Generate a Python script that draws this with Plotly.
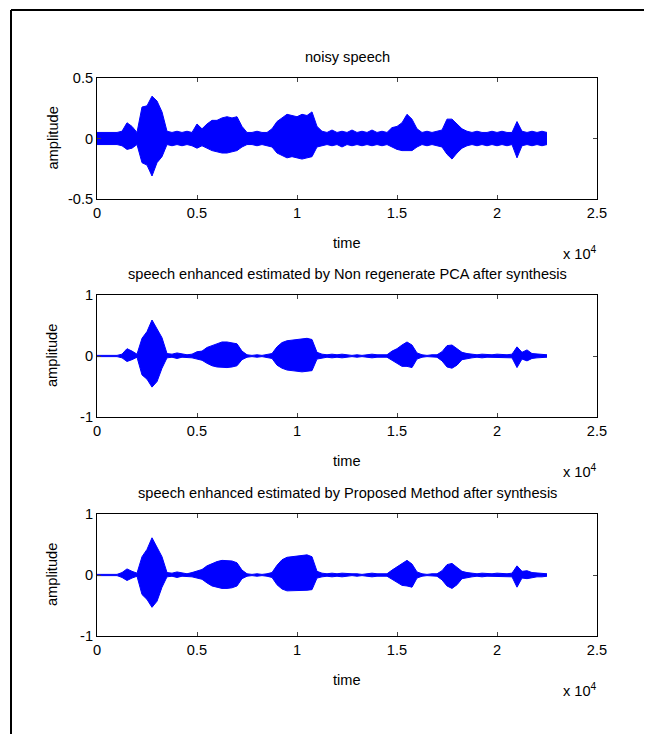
import plotly.graph_objects as go

W, H = 649, 734

# sample index (time) at which envelope values were read
time_samples = [
    0, 250, 500, 750, 1000, 1250, 1500, 1750, 2000, 2250,
    2500, 2750, 3000, 3250, 3500, 3750, 4000, 4250, 4500, 4750,
    5000, 5250, 5500, 5750, 6000, 6250, 6500, 6750, 7000, 7250,
    7500, 7750, 8000, 8250, 8500, 8750, 9000, 9250, 9500, 9750,
    10000, 10250, 10500, 10750, 11000, 11250, 11500, 11750, 12000, 12250,
    12500, 12750, 13000, 13250, 13500, 13750, 14000, 14250, 14500, 14750,
    15000, 15250, 15500, 15750, 16000, 16250, 16500, 16750, 17000, 17250,
    17500, 17750, 18000, 18250, 18500, 18750, 19000, 19250, 19500, 19750,
    20000, 20250, 20500, 20750, 21000, 21250, 21500, 21750, 22000, 22250,
    22500,
]

noisy_upper = [
    0.05, 0.05, 0.05, 0.05, 0.05, 0.06, 0.13, 0.10, 0.05, 0.26,
    0.27, 0.35, 0.31, 0.22, 0.06, 0.05, 0.06, 0.05, 0.06, 0.05,
    0.12, 0.08, 0.12, 0.15, 0.15, 0.17, 0.18, 0.17, 0.18, 0.10,
    0.05, 0.05, 0.06, 0.05, 0.05, 0.08, 0.14, 0.17, 0.20, 0.19,
    0.18, 0.20, 0.19, 0.22, 0.10, 0.06, 0.05, 0.07, 0.05, 0.06,
    0.05, 0.07, 0.05, 0.06, 0.05, 0.07, 0.05, 0.06, 0.05, 0.09,
    0.10, 0.13, 0.20, 0.16, 0.08, 0.05, 0.06, 0.05, 0.06, 0.07,
    0.16, 0.16, 0.12, 0.08, 0.06, 0.05, 0.06, 0.05, 0.05, 0.06,
    0.05, 0.06, 0.05, 0.05, 0.14, 0.06, 0.05, 0.06, 0.05, 0.06,
    0.05,
]
noisy_lower = [
    -0.05, -0.05, -0.05, -0.05, -0.05, -0.06, -0.09, -0.08, -0.05, -0.20,
    -0.22, -0.31, -0.20, -0.15, -0.05, -0.06, -0.05, -0.06, -0.05, -0.06,
    -0.08, -0.06, -0.08, -0.10, -0.11, -0.12, -0.12, -0.11, -0.10, -0.07,
    -0.05, -0.05, -0.06, -0.05, -0.06, -0.07, -0.12, -0.14, -0.16, -0.15,
    -0.16, -0.17, -0.16, -0.15, -0.07, -0.06, -0.05, -0.06, -0.05, -0.07,
    -0.05, -0.06, -0.05, -0.06, -0.05, -0.06, -0.05, -0.06, -0.05, -0.07,
    -0.09, -0.10, -0.10, -0.10, -0.07, -0.05, -0.06, -0.05, -0.06, -0.07,
    -0.13, -0.17, -0.12, -0.08, -0.06, -0.05, -0.06, -0.05, -0.06, -0.05,
    -0.06, -0.05, -0.06, -0.05, -0.16, -0.06, -0.05, -0.06, -0.05, -0.06,
    -0.05,
]

pca_upper = [
    0.01, 0.01, 0.01, 0.01, 0.01, 0.03, 0.12, 0.08, 0.03, 0.29,
    0.40, 0.59, 0.45, 0.30, 0.04, 0.03, 0.05, 0.03, 0.02, 0.03,
    0.07, 0.08, 0.14, 0.17, 0.20, 0.23, 0.23, 0.22, 0.20, 0.08,
    0.02, 0.01, 0.02, 0.01, 0.02, 0.04, 0.15, 0.22, 0.25, 0.26,
    0.27, 0.28, 0.29, 0.27, 0.06, 0.03, 0.02, 0.03, 0.02, 0.03,
    0.02, 0.01, 0.02, 0.01, 0.02, 0.03, 0.02, 0.02, 0.02, 0.08,
    0.12, 0.18, 0.23, 0.18, 0.05, 0.02, 0.01, 0.02, 0.02, 0.07,
    0.17, 0.18, 0.12, 0.06, 0.04, 0.03, 0.02, 0.03, 0.02, 0.02,
    0.03, 0.02, 0.02, 0.03, 0.15, 0.06, 0.10, 0.04, 0.03, 0.03,
    0.02,
]
pca_lower = [
    -0.01, -0.01, -0.01, -0.01, -0.01, -0.03, -0.09, -0.06, -0.02, -0.31,
    -0.38, -0.51, -0.42, -0.20, -0.03, -0.02, -0.04, -0.02, -0.02, -0.03,
    -0.05, -0.07, -0.12, -0.16, -0.18, -0.19, -0.19, -0.18, -0.16, -0.06,
    -0.02, -0.01, -0.02, -0.01, -0.02, -0.04, -0.15, -0.20, -0.23, -0.24,
    -0.25, -0.26, -0.25, -0.24, -0.05, -0.03, -0.02, -0.03, -0.02, -0.03,
    -0.02, -0.01, -0.02, -0.01, -0.02, -0.03, -0.02, -0.02, -0.02, -0.07,
    -0.12, -0.17, -0.17, -0.19, -0.05, -0.02, -0.01, -0.02, -0.02, -0.08,
    -0.18, -0.20, -0.15, -0.06, -0.04, -0.03, -0.02, -0.03, -0.02, -0.02,
    -0.03, -0.02, -0.02, -0.03, -0.19, -0.05, -0.08, -0.04, -0.03, -0.03,
    -0.02,
]

prop_upper = [
    0.01, 0.01, 0.01, 0.01, 0.01, 0.04, 0.10, 0.06, 0.03, 0.30,
    0.42, 0.61, 0.46, 0.30, 0.04, 0.03, 0.05, 0.03, 0.02, 0.04,
    0.07, 0.09, 0.15, 0.19, 0.22, 0.24, 0.24, 0.23, 0.20, 0.08,
    0.02, 0.01, 0.02, 0.01, 0.02, 0.04, 0.16, 0.25, 0.29, 0.30,
    0.31, 0.32, 0.33, 0.30, 0.06, 0.03, 0.02, 0.03, 0.02, 0.03,
    0.02, 0.02, 0.02, 0.01, 0.02, 0.03, 0.02, 0.02, 0.02, 0.08,
    0.13, 0.19, 0.24, 0.18, 0.05, 0.02, 0.01, 0.02, 0.02, 0.07,
    0.17, 0.19, 0.12, 0.06, 0.04, 0.03, 0.02, 0.03, 0.02, 0.02,
    0.03, 0.02, 0.02, 0.03, 0.15, 0.06, 0.07, 0.04, 0.03, 0.03,
    0.02,
]
prop_lower = [
    -0.01, -0.01, -0.01, -0.01, -0.01, -0.04, -0.09, -0.05, -0.02, -0.32,
    -0.40, -0.53, -0.43, -0.20, -0.03, -0.02, -0.04, -0.02, -0.02, -0.03,
    -0.05, -0.07, -0.13, -0.18, -0.20, -0.22, -0.22, -0.21, -0.18, -0.06,
    -0.02, -0.01, -0.02, -0.01, -0.02, -0.04, -0.16, -0.23, -0.26, -0.26,
    -0.26, -0.26, -0.25, -0.24, -0.05, -0.03, -0.02, -0.03, -0.02, -0.03,
    -0.02, -0.01, -0.02, -0.01, -0.02, -0.03, -0.02, -0.02, -0.02, -0.07,
    -0.12, -0.17, -0.18, -0.20, -0.05, -0.02, -0.01, -0.02, -0.02, -0.08,
    -0.18, -0.22, -0.16, -0.06, -0.04, -0.03, -0.02, -0.03, -0.02, -0.02,
    -0.03, -0.02, -0.02, -0.03, -0.20, -0.05, -0.06, -0.04, -0.03, -0.03,
    -0.02,
]

titles = [
    "noisy speech",
    "speech enhanced estimated by Non regenerate PCA after synthesis",
    "speech enhanced estimated by Proposed Method after synthesis",
]
x_tickvals = [0, 5000, 10000, 15000, 20000, 25000]
x_ticktext = ["0", "0.5", "1", "1.5", "2", "2.5"]
y_ranges = [[-0.5, 0.5], [-1, 1], [-1, 1]]
y_tickvals = [[-0.5, 0, 0.5], [-1, 0, 1], [-1, 0, 1]]
y_ticktext = [["-0.5", "0", "0.5"], ["-1", "0", "1"], ["-1", "0", "1"]]

series = [(noisy_upper, noisy_lower), (pca_upper, pca_lower), (prop_upper, prop_lower)]

# pixel layout of axes (top, bottom) in the 649x734 picture
ax_left, ax_right = 97, 597
ax_rows = [(78, 199), (295, 417), (514, 636)]

FONT = "Liberation Sans, Arial, sans-serif"
FS = 14.6
BLUE = "#0000FF"

fig = go.Figure()
layout = dict(
    width=W, height=H,
    margin=dict(l=0, r=0, t=0, b=0, autoexpand=False),
    paper_bgcolor="white", plot_bgcolor="white",
    showlegend=False,
    font=dict(family=FONT, size=FS, color="black"),
)
annotations = []
for i, ((up, lo), (top, bot)) in enumerate(zip(series, ax_rows)):
    n = "" if i == 0 else str(i + 1)
    xa, ya = "x" + n, "y" + n
    fig.add_trace(go.Scatter(x=time_samples, y=up, mode="lines",
                             line=dict(color=BLUE, width=1), xaxis=xa, yaxis=ya,
                             hoverinfo="skip"))
    fig.add_trace(go.Scatter(x=time_samples, y=lo, mode="lines",
                             line=dict(color=BLUE, width=1), fill="tonexty",
                             fillcolor=BLUE, xaxis=xa, yaxis=ya, hoverinfo="skip"))
    ydom = [1 - bot / H, 1 - top / H]
    layout["xaxis" + n] = dict(
        domain=[ax_left / W, ax_right / W], range=[0, 25000], anchor=ya,
        tickvals=x_tickvals, ticktext=x_ticktext, ticks="inside", ticklen=4,
        showline=True, linecolor="black", linewidth=1, mirror="ticks",
        showgrid=False, zeroline=False, tickfont=dict(size=FS),
    )
    layout["yaxis" + n] = dict(
        domain=ydom, range=y_ranges[i], anchor=xa,
        tickvals=y_tickvals[i], ticktext=y_ticktext[i], ticks="inside", ticklen=4,
        showline=True, linecolor="black", linewidth=1, mirror="ticks",
        showgrid=False, zeroline=False, tickfont=dict(size=FS),
    )
    annotations.append(dict(text=titles[i], x=(ax_left + ax_right) / 2 / W, y=1 - (top - 21) / H,
                            xref="paper", yref="paper", showarrow=False,
                            font=dict(size=FS), xanchor="center", yanchor="middle"))
    annotations.append(dict(text="time", x=(ax_left + ax_right) / 2 / W, y=1 - (bot + 44) / H,
                            xref="paper", yref="paper", showarrow=False,
                            font=dict(size=FS), xanchor="center", yanchor="middle"))
    annotations.append(dict(text="x 10<sup>4</sup>", x=561 / W, y=1 - (bot + 54) / H,
                            xref="paper", yref="paper", showarrow=False,
                            font=dict(size=FS), xanchor="left", yanchor="middle"))
    annotations.append(dict(text="amplitude", x=52 / W, y=1 - (top + bot) / 2 / H,
                            xref="paper", yref="paper", showarrow=False, textangle=-90,
                            font=dict(size=FS), xanchor="center", yanchor="middle"))

layout["annotations"] = annotations
layout["shapes"] = [
    dict(type="line", xref="paper", yref="paper", x0=11 / W, x1=644 / W, y0=1 - 10 / H, y1=1 - 10 / H,
         line=dict(color="black", width=2)),
    dict(type="line", xref="paper", yref="paper", x0=11 / W, x1=11 / W, y0=-0.05, y1=1 - 10 / H,
         line=dict(color="black", width=2)),
]
fig.update_layout(**layout)
fig.write_html(
    "out.html",
    post_script="document.body.style.margin='0';document.body.style.padding='0';"
                "document.documentElement.style.overflow='hidden';",
)
